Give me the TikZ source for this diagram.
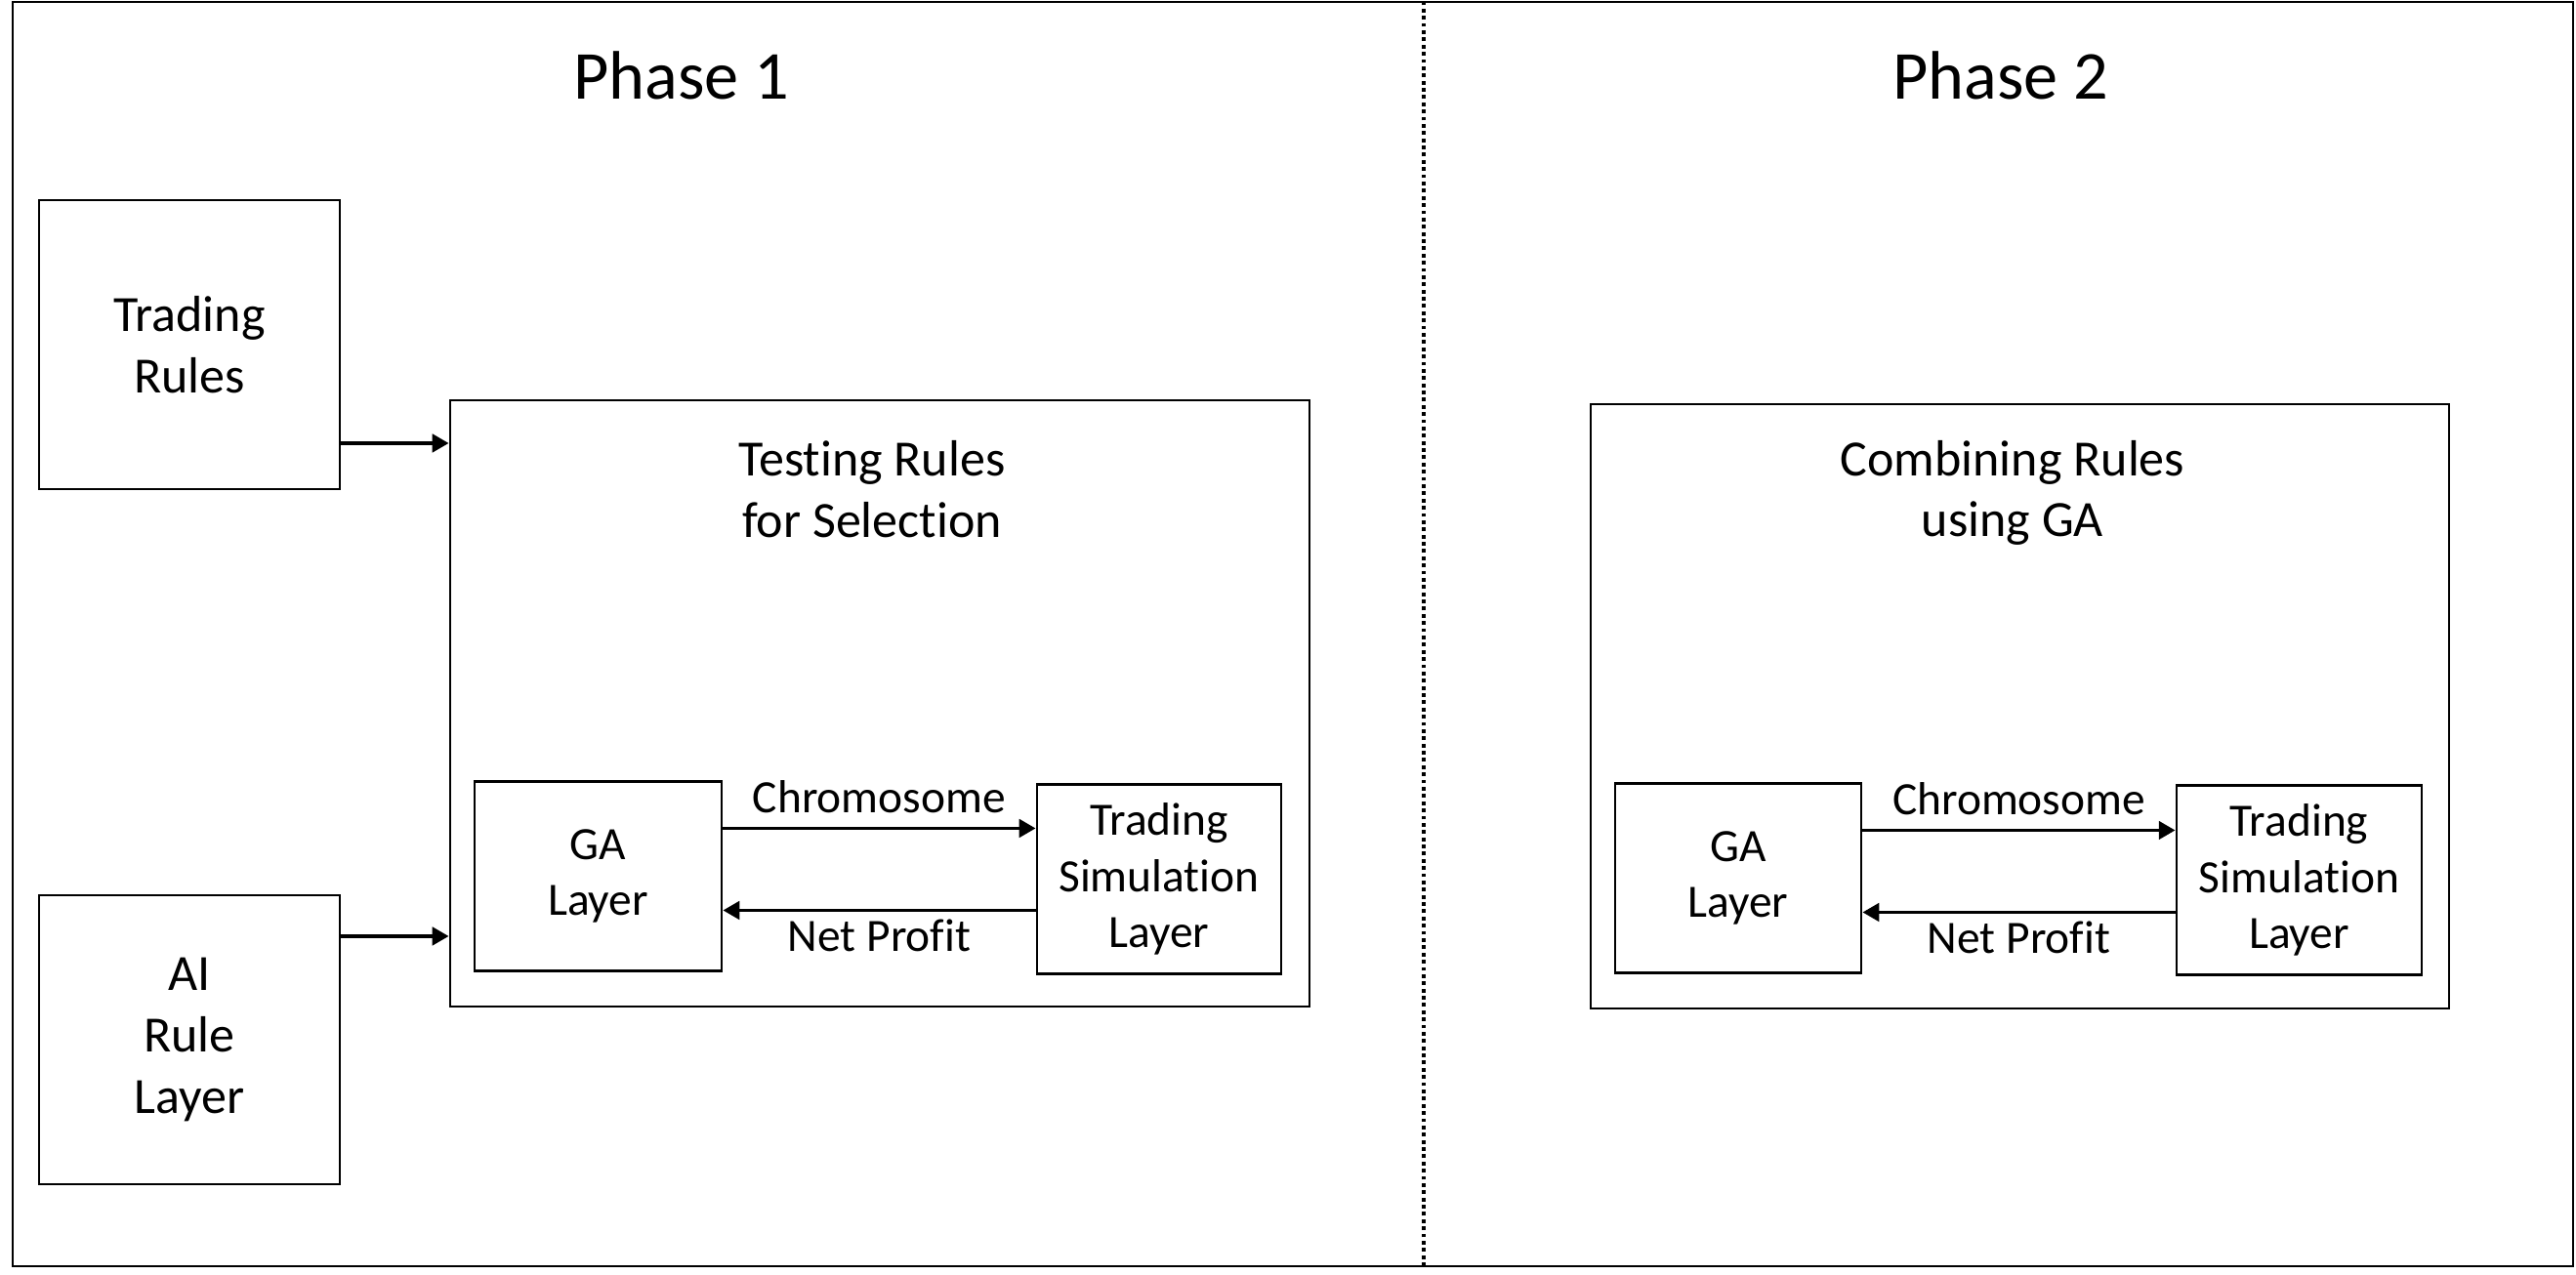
\documentclass[tikz,border=0pt]{standalone}
\usepackage{fontspec}
\setmainfont{Carlito}[Ligatures=NoCommon]
\usepackage{tikz}
\usetikzlibrary{arrows.meta,positioning}

\begin{document}
\begin{tikzpicture}[x=1cm, y=1cm, >={Triangle[length=4.8pt,width=5.2pt]},
    box/.style={draw, line width=0.8pt, align=center, inner sep=0pt},
    rulebox/.style={box, minimum width=3.08cm, minimum height=2.96cm, font=\fontsize{14.8}{17.8}\selectfont},
    layerbox/.style={box, minimum height=1.94cm, font=\fontsize{13.5}{16.4}\selectfont},
    title/.style={align=center, font=\fontsize{14.8}{17.8}\selectfont},
    flow/.style={->, line width=1.1pt},
    lbl/.style={font=\fontsize{13.5}{16.4}\selectfont}]

    \useasboundingbox (0,0) rectangle (26.38,13.06);

    % Frame and phase divider
    \draw[line width=0.8pt] (0.13,0.09) rectangle (26.35,13.04);
    \draw[line width=1.1pt, dash pattern=on 1.1pt off 1pt] (14.58,0.09) -- (14.58,13.04);

    % Phase titles
    \node[font=\fontsize{20}{24}\selectfont] (phase1) at (6.98,12.29) {Phase 1};
    \node[font=\fontsize{20}{24}\selectfont] (phase2) at (20.49,12.29) {Phase 2};

    % --- PHASE 1 ---
    \node[rulebox] (trules) at (1.94,9.53) {Trading\\Rules};
    \node[rulebox] (airule) at (1.94,2.41) {AI\\Rule\\Layer};
    \node[box, minimum width=8.80cm, minimum height=6.21cm] (test) at (9.01,5.855) {};
    \node[title] (testtitle) at (8.93,8.05) {Testing Rules\\for Selection};
    \node[layerbox, minimum width=2.53cm] (ga1) at (6.125,4.085) {GA\\Layer};
    \node[layerbox, minimum width=2.50cm] (sim1) at (11.87,4.055) {Trading\\Simulation\\Layer};

    \draw[flow] ([yshift=-1.01cm]trules.east) coordinate (in1) -- (in1 -| test.west);
    \draw[flow] ([yshift=1.06cm]airule.east) coordinate (in2) -- (in2 -| test.west);
    \draw[flow] ([yshift=0.49cm]ga1.east) coordinate (c1) -- (c1 -| sim1.west)
        node[lbl, midway, above, inner sep=4pt] {Chromosome};
    \path ([yshift=-0.35cm]ga1.east) coordinate (p1);
    \draw[flow] (p1 -| sim1.west) -- (p1) node[lbl, midway, below, inner sep=2pt] {Net Profit};

    % --- PHASE 2 ---
    \node[box, minimum width=8.79cm, minimum height=6.19cm] (combine) at (20.685,5.825) {};
    \node[title] (combtitle) at (20.61,8.01) {Combining Rules\\using GA};
    \node[layerbox, minimum width=2.52cm] (ga2) at (17.80,4.065) {GA\\Layer};
    \node[layerbox, minimum width=2.51cm] (sim2) at (23.545,4.045) {Trading\\Simulation\\Layer};

    \draw[flow] ([yshift=0.49cm]ga2.east) coordinate (c2) -- (c2 -| sim2.west)
        node[lbl, midway, above, inner sep=4pt] {Chromosome};
    \path ([yshift=-0.35cm]ga2.east) coordinate (p2);
    \draw[flow] (p2 -| sim2.west) -- (p2) node[lbl, midway, below, inner sep=2pt] {Net Profit};

\end{tikzpicture}
\end{document}
